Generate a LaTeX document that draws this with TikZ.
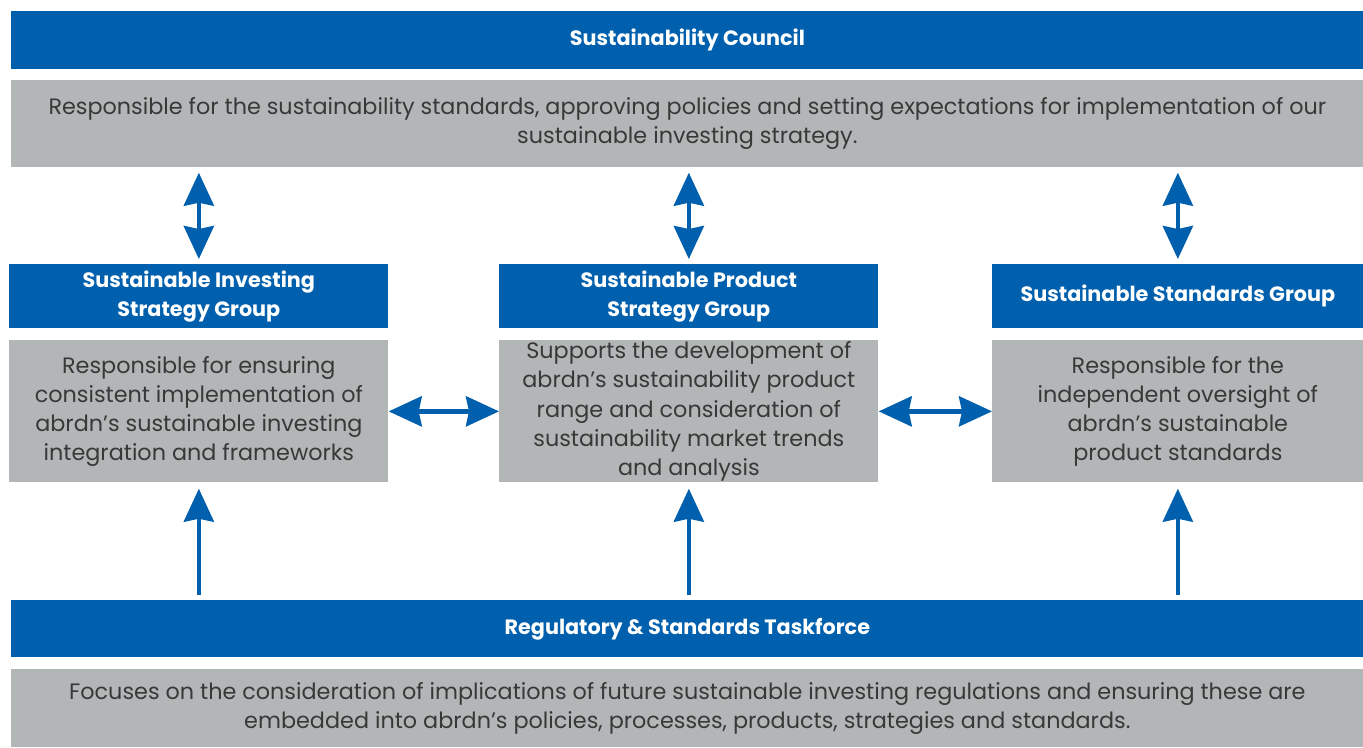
\documentclass[tikz,border=0pt]{standalone}
\usepackage{fontspec}
\setmainfont{Poppins}
\usetikzlibrary{arrows.meta,positioning}

\definecolor{abblue}{HTML}{0060AD}
\definecolor{abgrey}{HTML}{B3B6B7}
\definecolor{abtext}{HTML}{383838}

\tikzset{
    head/.style={fill=abblue, text=white, font=\bfseries\fontsize{11.8}{16.5}\selectfont, align=center, inner sep=0pt, anchor=north west},
    desc/.style={fill=abgrey, text=abtext, font=\fontsize{12.7}{16.6}\selectfont, align=center, inner sep=0pt, anchor=north west},
    link/.style={abblue, line width=2.5pt, {Stealth[length=6.6mm,width=6mm,inset=0.6mm]}-{Stealth[length=6.6mm,width=6mm,inset=0.6mm]}},
    uplink/.style={abblue, line width=2.5pt, -{Stealth[length=6.6mm,width=6mm,inset=0.6mm]}}
}

\begin{document}
\begin{tikzpicture}
        \useasboundingbox (0,0) rectangle (27.26,-14.94);

        % council
        \node[head, minimum width=27.04cm, minimum height=1.16cm] (council) at (0.22,-0.22) {Sustainability Council};
        \node[desc, minimum width=27.04cm, minimum height=1.74cm] (councildesc) at (0.22,-1.60)
            {Responsible for the sustainability standards, approving policies and setting expectations for implementation of our\\sustainable investing strategy.};

        % the three groups
        \node[head, minimum width=7.58cm, minimum height=1.28cm] (isg) at (0.18,-5.28) {Sustainable Investing\\Strategy Group};
        \node[desc, minimum width=7.58cm, minimum height=2.84cm] (isgdesc) at (0.18,-6.80)
            {Responsible for ensuring\\consistent implementation of\\abrdn’s sustainable investing\\integration and frameworks};

        \node[head, minimum width=7.58cm, minimum height=1.28cm] (psg) at (9.98,-5.28) {Sustainable Product\\Strategy Group};
        \node[desc, minimum width=7.58cm, minimum height=2.84cm] (psgdesc) at (9.98,-6.80)
            {Supports the development of\\abrdn’s sustainability product\\range and consideration of\\sustainability market trends\\and analysis};

        \node[head, minimum width=7.42cm, minimum height=1.28cm] (ssg) at (19.84,-5.28) {Sustainable Standards Group};
        \node[desc, minimum width=7.42cm, minimum height=2.84cm] (ssgdesc) at (19.84,-6.80)
            {Responsible for the\\independent oversight of\\abrdn’s sustainable\\product standards};

        % taskforce
        \node[head, minimum width=27.04cm, minimum height=1.14cm] (task) at (0.22,-12.00) {Regulatory \& Standards Taskforce};
        \node[desc, minimum width=27.04cm, minimum height=1.56cm] (taskdesc) at (0.22,-13.38)
            {Focuses on the consideration of implications of future sustainable investing regulations and ensuring these are\\embedded into abrdn’s policies, processes, products, strategies and standards.};

        % arrows
        \draw[link, shorten <=0.1cm, shorten >=0.1cm] (councildesc.south -| isg.north) -- (isg.north);
        \draw[link, shorten <=0.1cm, shorten >=0.1cm] (councildesc.south -| psg.north) -- (psg.north);
        \draw[link, shorten <=0.1cm, shorten >=0.1cm] (councildesc.south -| ssg.north) -- (ssg.north);

        \draw[link] (isgdesc.east) -- (psgdesc.west);
        \draw[link] (psgdesc.east) -- (ssgdesc.west);

        \draw[uplink, shorten <=0.1cm, shorten >=0.12cm] (task.north -| isgdesc.south) -- (isgdesc.south);
        \draw[uplink, shorten <=0.1cm, shorten >=0.12cm] (task.north -| psgdesc.south) -- (psgdesc.south);
        \draw[uplink, shorten <=0.1cm, shorten >=0.12cm] (task.north -| ssgdesc.south) -- (ssgdesc.south);
    \end{tikzpicture}
\end{document}
